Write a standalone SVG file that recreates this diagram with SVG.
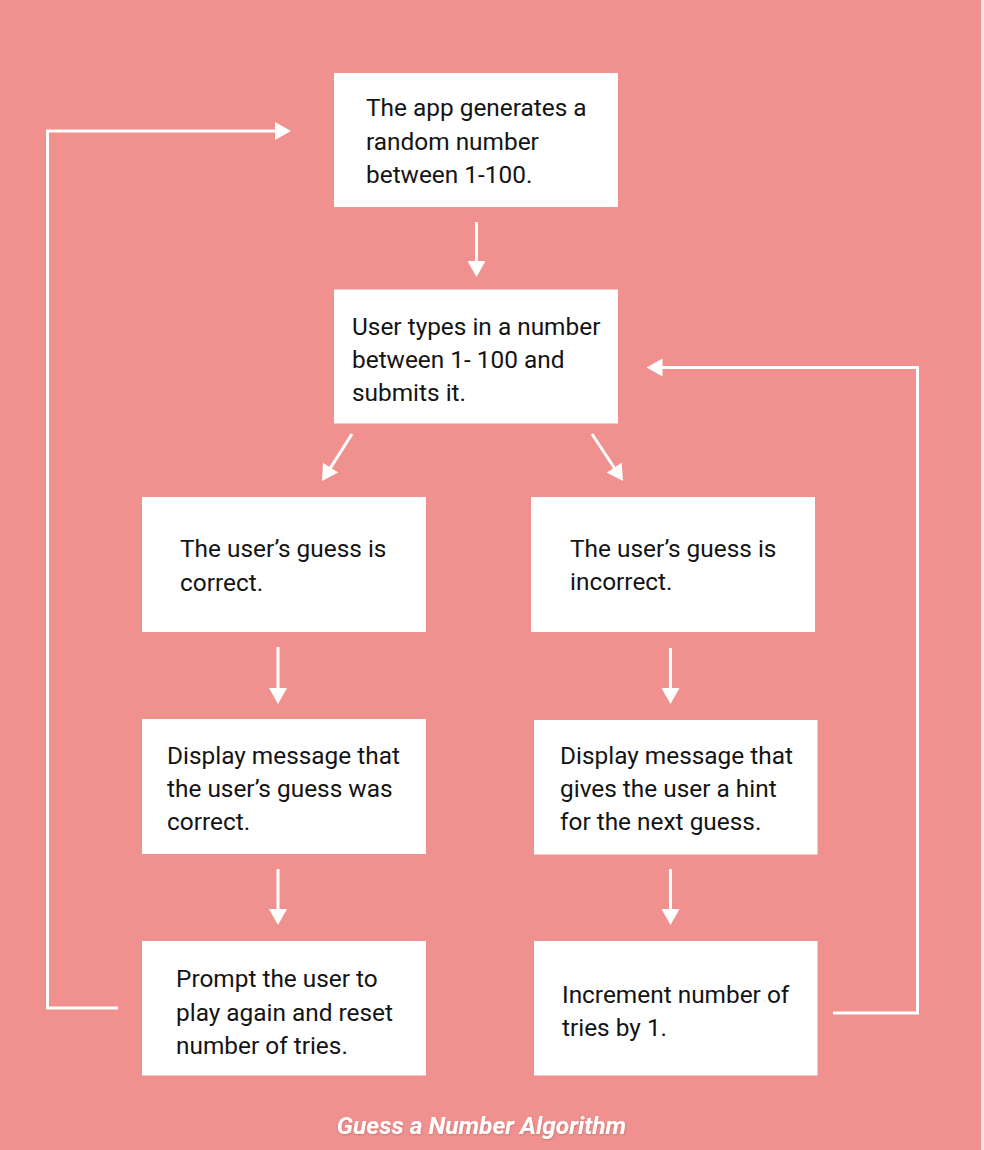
<svg xmlns="http://www.w3.org/2000/svg" width="984" height="1150" viewBox="0 0 984 1150">
  <style>
    .box { fill: #ffffff; }
    .txt { font-family: Roboto, "Liberation Sans", sans-serif; font-size: 24.4px; fill: #141414; }
    .conn { stroke: #ffffff; stroke-width: 3; fill: none; }
    .title { font-family: Roboto, "Liberation Sans", sans-serif; font-size: 24.5px; font-weight: bold; font-style: italic; fill: #ffffff; }
  </style>
  <defs>
    <marker id="arrow" markerUnits="userSpaceOnUse" markerWidth="16" markerHeight="18" viewBox="0 0 16 18" refX="4" refY="9" orient="auto">
      <path d="M0,0 L16,9 L0,18 z" fill="#ffffff"/>
    </marker>
    <filter id="shadow" x="-10%" y="-30%" width="120%" height="160%">
      <feDropShadow dx="0.5" dy="1" stdDeviation="1" flood-color="#000000" flood-opacity="0.18"/>
    </filter>
  </defs>
  <rect x="0" y="0" width="984" height="1150" fill="#F0918F"/>
  <rect x="981" y="0" width="3" height="1150" fill="#FBE6E6"/>

  <g id="connectors">
    <line class="conn" x1="476.5" y1="222" x2="476.5" y2="265" marker-end="url(#arrow)"/>
    <line class="conn" x1="352" y1="434" x2="328.5" y2="470.9" marker-end="url(#arrow)"/>
    <line class="conn" x1="592" y1="434" x2="616.4" y2="471" marker-end="url(#arrow)"/>
    <line class="conn" x1="278" y1="647" x2="278" y2="692" marker-end="url(#arrow)"/>
    <line class="conn" x1="670.5" y1="648" x2="670.5" y2="692" marker-end="url(#arrow)"/>
    <line class="conn" x1="278" y1="869" x2="278" y2="913" marker-end="url(#arrow)"/>
    <line class="conn" x1="670.5" y1="869" x2="670.5" y2="913" marker-end="url(#arrow)"/>
    <polyline class="conn" points="118,1008 47.5,1008 47.5,131 279,131" marker-end="url(#arrow)"/>
    <polyline class="conn" points="833,1013 917.5,1013 917.5,367.5 658.5,367.5" marker-end="url(#arrow)"/>
  </g>

  <g id="node-generate">
    <rect class="box" x="334" y="73" width="284" height="134"/>
    <text class="txt" x="366" y="116">The app generates a</text>
    <text class="txt" x="366" y="149.5">random number</text>
    <text class="txt" x="366" y="183">between 1-100.</text>
  </g>

  <g id="node-input">
    <rect class="box" x="334" y="289.5" width="284" height="134"/>
    <text class="txt" x="352" y="335">User types in a number</text>
    <text class="txt" x="352" y="368">between 1- 100 and</text>
    <text class="txt" x="352" y="401">submits it.</text>
  </g>

  <g id="node-correct">
    <rect class="box" x="142" y="497" width="284" height="135"/>
    <text class="txt" x="180" y="557">The user’s guess is</text>
    <text class="txt" x="180" y="591">correct.</text>
  </g>

  <g id="node-incorrect">
    <rect class="box" x="531" y="497" width="284" height="135"/>
    <text class="txt" x="570" y="556.5">The user’s guess is</text>
    <text class="txt" x="570" y="590">incorrect.</text>
  </g>

  <g id="node-msg-correct">
    <rect class="box" x="142" y="719" width="284" height="135"/>
    <text class="txt" x="167" y="764">Display message that</text>
    <text class="txt" x="167" y="797">the user’s guess was</text>
    <text class="txt" x="167" y="830">correct.</text>
  </g>

  <g id="node-msg-hint">
    <rect class="box" x="534" y="720" width="283.5" height="134.5"/>
    <text class="txt" x="560" y="764">Display message that</text>
    <text class="txt" x="560" y="797">gives the user a hint</text>
    <text class="txt" x="560" y="830">for the next guess.</text>
  </g>

  <g id="node-prompt">
    <rect class="box" x="142" y="941" width="284" height="134.5"/>
    <text class="txt" x="176" y="987">Prompt the user to</text>
    <text class="txt" x="176" y="1020.5">play again and reset</text>
    <text class="txt" x="176" y="1053.5">number of tries.</text>
  </g>

  <g id="node-increment">
    <rect class="box" x="534" y="941" width="283.5" height="134.5"/>
    <text class="txt" x="562" y="1002.5">Increment number of</text>
    <text class="txt" x="562" y="1036">tries by 1.</text>
  </g>

  <text class="title" x="481.5" y="1134" text-anchor="middle" filter="url(#shadow)">Guess a Number Algorithm</text>
</svg>
